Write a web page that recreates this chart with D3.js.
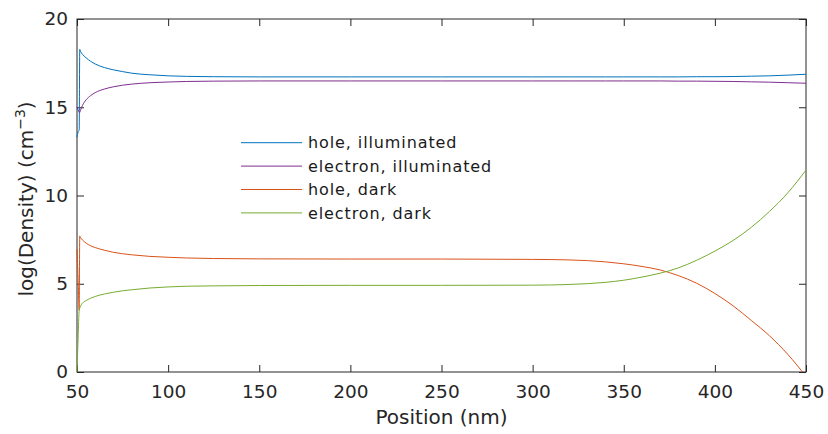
<!DOCTYPE html>
<html>
<head>
<meta charset="utf-8">
<script src="https://d3js.org/d3.v7.min.js"></script>
<style>
  body { margin: 0; background: #fff; }
  svg { display: block; font-family: "DejaVu Sans", sans-serif; }
</style>
</head>
<body>
<main></main>
<script>
const width = 828;
const height = 434;
const margin = { top: 19, right: 22, bottom: 62, left: 77 };

// position along the device (nm)
const positions = [50, 50.6, 51.2, 51.5, 52, 53, 55, 57.5, 60, 65, 70, 75, 80, 90, 100, 110, 125, 150,
                   200, 250, 300, 320, 340, 350, 360, 370, 380, 390, 400, 410, 420, 430, 440, 450];

// log10 of carrier density (cm^-3)
const holeIllum = [13.3, 13.6, 13.72, 18.28, 18.15, 18.0, 17.8, 17.6, 17.45, 17.25, 17.12, 17.02, 16.93, 16.84, 16.78, 16.75, 16.73, 16.72,
                   16.72, 16.72, 16.72, 16.72, 16.72, 16.72, 16.72, 16.72, 16.72, 16.73, 16.73, 16.74, 16.76, 16.78, 16.82, 16.87];
const elecIllum = [15.0, 14.85, 14.72, 14.7, 14.85, 15.1, 15.42, 15.66, 15.83, 16.03, 16.16, 16.25, 16.31, 16.39, 16.43, 16.46, 16.48, 16.49,
                   16.49, 16.49, 16.49, 16.49, 16.49, 16.49, 16.49, 16.49, 16.48, 16.48, 16.47, 16.46, 16.44, 16.42, 16.39, 16.36];
const holeDark = [6.95, 5.3, 3.5, 7.7, 7.6, 7.48, 7.3, 7.15, 7.05, 6.9, 6.78, 6.7, 6.64, 6.55, 6.5, 6.46, 6.43, 6.41,
                  6.4, 6.4, 6.38, 6.35, 6.24, 6.13, 5.98, 5.78, 5.46, 5.03, 4.45, 3.75, 2.92, 2.05, 1.0, -0.25];
const elecDark = [0, 1.9, 3.5, 3.62, 3.75, 3.9, 4.05, 4.18, 4.28, 4.42, 4.52, 4.6, 4.66, 4.76, 4.82, 4.86, 4.88, 4.9,
                  4.91, 4.91, 4.92, 4.96, 5.08, 5.2, 5.38, 5.6, 5.9, 6.33, 6.85, 7.45, 8.2, 9.1, 10.15, 11.44];

const seriesNames = ['hole, illuminated', 'electron, illuminated', 'hole, dark', 'electron, dark'];
const seriesColors = ['#0072BD', '#7E2F8E', '#D95319', '#77AC30'];

const xTicks = [50, 100, 150, 200, 250, 300, 350, 400, 450];
const yTicks = [0, 5, 10, 15, 20];

const axisColor = '#262626';

const createCanvas = () => {
    return d3.select('main')
             .append('svg')
             .attr('width', width)
             .attr('height', height);
};

const defineScales = () => {
    const xScale = d3.scaleLinear().domain([50, 450])
                                   .range([margin.left, width - margin.right]);
    const yScale = d3.scaleLinear().domain([0, 20])
                                   .range([height - margin.bottom, margin.top]);
    return { xScale, yScale };
};

const styleAxis = (g) => {
    g.select('.domain').remove();
    g.selectAll('line').attr('stroke', axisColor);
    g.selectAll('text')
     .attr('fill', axisColor)
     .style('font-size', '18.5px')
     .style('font-family', '"DejaVu Sans", sans-serif');
};

const createAxis = (scales, svg) => {
    const { xScale, yScale } = scales;
    const x0 = margin.left, x1 = width - margin.right;
    const y0 = height - margin.bottom, y1 = margin.top;
    const tick = 7;

    svg.append('g')
       .attr('id', 'x-axis')
       .attr('transform', 'translate(0,' + y0 + ')')
       .call(d3.axisBottom(xScale).tickValues(xTicks).tickSize(-tick).tickPadding(13))
       .call(styleAxis);

    svg.append('g')
       .attr('id', 'x-axis-top')
       .attr('transform', 'translate(0,' + y1 + ')')
       .call(d3.axisTop(xScale).tickValues(xTicks).tickSize(-tick).tickFormat(''))
       .call(styleAxis);

    svg.append('g')
       .attr('id', 'y-axis')
       .attr('transform', 'translate(' + x0 + ',0)')
       .call(d3.axisLeft(yScale).tickValues(yTicks).tickSize(-tick).tickPadding(9))
       .call(styleAxis);

    svg.append('g')
       .attr('id', 'y-axis-right')
       .attr('transform', 'translate(' + x1 + ',0)')
       .call(d3.axisRight(yScale).tickValues(yTicks).tickSize(-tick).tickFormat(''))
       .call(styleAxis);

    // box
    svg.append('rect')
       .attr('x', x0)
       .attr('y', y1)
       .attr('width', x1 - x0)
       .attr('height', y0 - y1)
       .attr('fill', 'none')
       .attr('stroke', axisColor)
       .attr('stroke-width', 1);

    svg.append('text')
       .attr('x', (x0 + x1) / 2)
       .attr('y', 424)
       .attr('text-anchor', 'middle')
       .attr('fill', axisColor)
       .style('font-size', '20px')
       .text('Position (nm)');

    const yLabel = svg.append('text')
       .attr('transform', 'translate(33,199) rotate(-90)')
       .attr('text-anchor', 'middle')
       .attr('fill', axisColor)
       .style('font-size', '20px');
    yLabel.append('tspan').text('log(Density) (cm');
    yLabel.append('tspan').attr('dy', -8).style('font-size', '14px').text('\u22123');
    yLabel.append('tspan').attr('dy', 8).text(')');
};

const createLines = (scales, svg) => {
    const { xScale, yScale } = scales;
    const allSeries = [holeIllum, elecIllum, holeDark, elecDark];

    svg.append('clipPath')
       .attr('id', 'plot-clip')
       .append('rect')
       .attr('x', margin.left - 2)
       .attr('y', margin.top)
       .attr('width', width - margin.left - margin.right + 2)
       .attr('height', height - margin.top - margin.bottom);

    const line = d3.line()
                   .x((d, i) => xScale(positions[i]))
                   .y(d => yScale(d))
                   .curve(d3.curveMonotoneX);

    svg.append('g')
       .attr('clip-path', 'url(#plot-clip)')
       .selectAll('path')
       .data(allSeries)
       .enter()
       .append('path')
       .attr('d', d => line(d))
       .attr('fill', 'none')
       .attr('stroke', (d, i) => seriesColors[i])
       .attr('stroke-width', 1);
};

const createLegend = (svg) => {
    const lx = 241, ty = 142.7, step = 23.4;
    const rows = svg.append('g')
                    .attr('id', 'legend')
                    .selectAll('g')
                    .data(seriesNames)
                    .enter()
                    .append('g')
                    .attr('transform', (d, i) => 'translate(' + lx + ',' + (ty + i * step) + ')');
    rows.append('line')
        .attr('x1', 0)
        .attr('x2', 61)
        .attr('stroke', (d, i) => seriesColors[i])
        .attr('stroke-width', 1);
    rows.append('text')
        .attr('x', 67)
        .attr('dy', '0.35em')
        .attr('fill', '#1a1a1a')
        .style('font-size', '16px')
        .style('letter-spacing', '0.9px')
        .text(d => d);
};

const driver = () => {
    const svg = createCanvas();
    const scales = defineScales();
    createAxis(scales, svg);
    createLines(scales, svg);
    createLegend(svg);
};

driver();
</script>
</body>
</html>
